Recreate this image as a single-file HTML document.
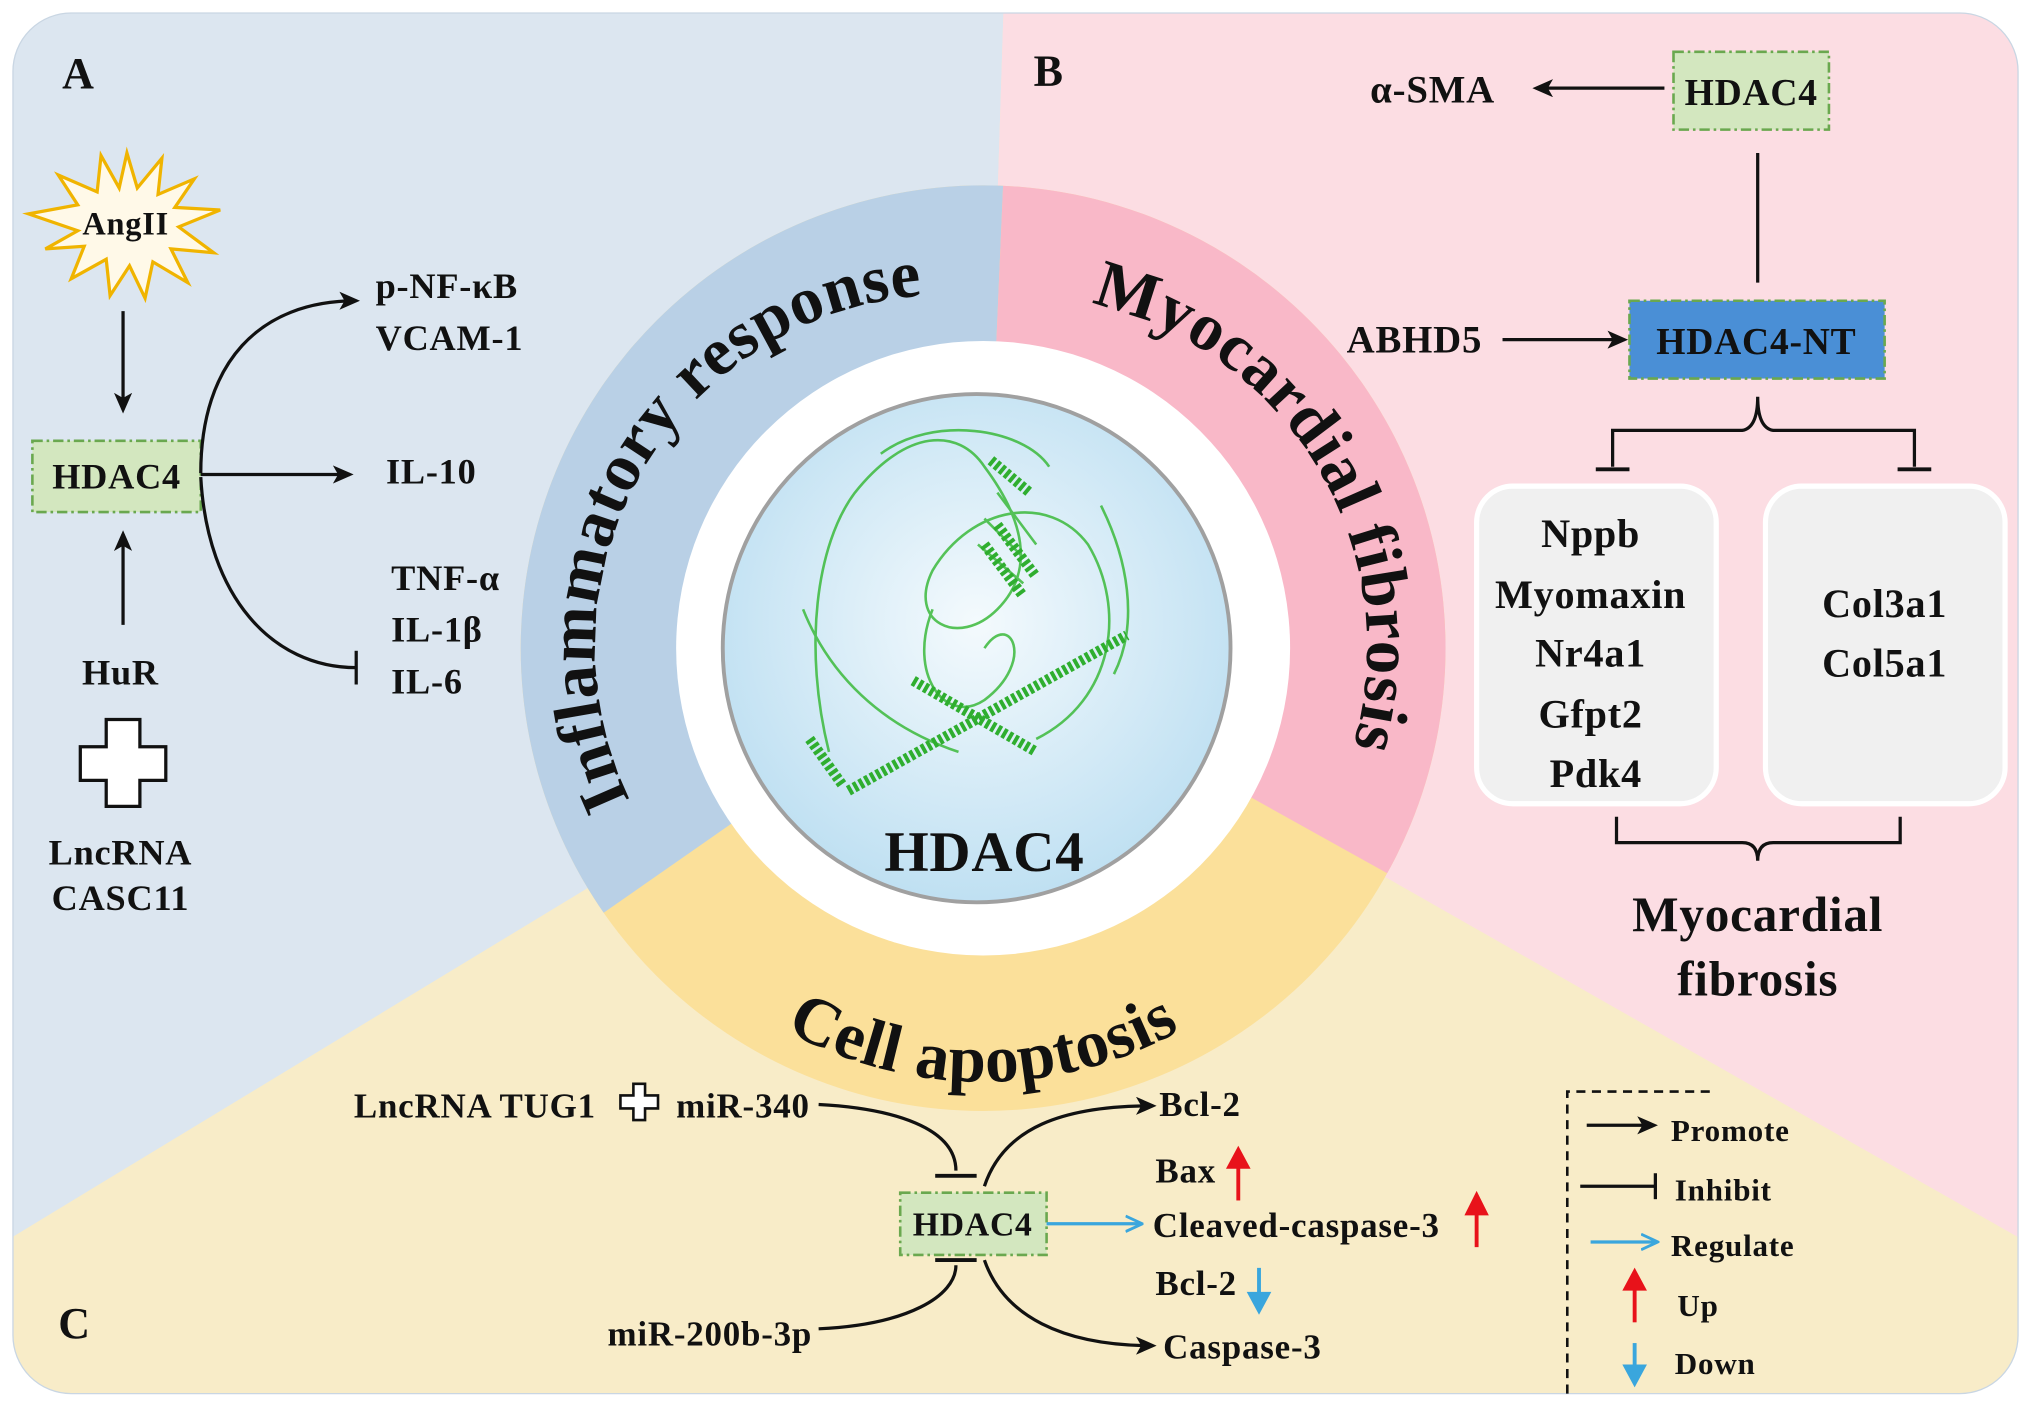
<!DOCTYPE html>
<html><head><meta charset="utf-8"><style>
html,body{margin:0;padding:0;background:#fff;}
svg{display:block;}
text{font-family:"Liberation Serif",serif;font-weight:bold;fill:#111;letter-spacing:0.6px;}
</style></head><body>
<svg width="2031" height="1404" viewBox="0 0 1568 1083" preserveAspectRatio="none" xmlns="http://www.w3.org/2000/svg">
<defs>
<clipPath id="panel"><rect x="10" y="10" width="1548" height="1065" rx="45"/></clipPath>
<clipPath id="ring"><circle cx="759" cy="500" r="357"/></clipPath>
<marker id="ah" markerWidth="16" markerHeight="14" refX="13" refY="7" orient="auto" markerUnits="userSpaceOnUse" viewBox="0 0 16 14"><path d="M0,0 L16,7 L0,14 L4,7 Z" fill="#111"/></marker>
<marker id="ab" markerWidth="14" markerHeight="14" refX="11" refY="7" orient="auto" markerUnits="userSpaceOnUse" viewBox="0 0 14 14"><path d="M0,1 L13,7 L0,13" fill="none" stroke="#3aa6dd" stroke-width="2.2"/></marker>
<radialGradient id="ig" cx="50%" cy="45%" r="55%"><stop offset="0" stop-color="#f4fafd"/><stop offset="1" stop-color="#bfe0f2"/></radialGradient>
<path id="arcInf" d="M 505 650 A 272 272 0 0 1 750 228"/>
<path id="arcMyo" d="M 790 228 A 272 272 0 0 1 1025 625"/>
<path id="arcCell" d="M 470 640 A 312 312 0 0 0 1048 640"/>
</defs>

<g clip-path="url(#panel)">
<rect x="0" y="0" width="1568" height="1083" fill="#f8ecc8"/>
<polygon points="0,0 775,0 759,500 0,960" fill="#dce6f0"/>
<polygon points="775,0 1568,0 1568,960 759,500" fill="#fcdde3"/>
</g>
<rect x="10" y="10" width="1548" height="1065" rx="45" fill="none" stroke="#c9d6e3" stroke-width="1"/>

<g clip-path="url(#ring)">
<rect x="380" y="130" width="760" height="760" fill="#fbe09a"/>
<polygon points="759,500 380,764 380,130 775,130" fill="#b9d0e6"/>
<polygon points="759,500 775,130 1140,130 1140,712" fill="#f9b8c8"/>
</g>
<circle cx="759" cy="500" r="237" fill="#fff"/>
<circle cx="754" cy="500" r="196" fill="url(#ig)" stroke="#a0a0a0" stroke-width="3"/>

<!-- protein sketch -->
<g fill="none" stroke="#3cba3c" stroke-width="2" opacity="0.85">
<path d="M640 580 C620 500 630 420 660 380 C700 330 740 330 760 360 C790 400 800 440 770 470 C740 500 700 480 720 440 C750 390 810 380 840 420 C870 470 860 540 800 570"/>
<path d="M680 350 C720 320 790 330 810 360 M760 400 L790 430 M770 380 L800 420 M755 420 L790 450"/>
<path d="M720 470 C700 520 730 560 760 540 C800 510 780 470 760 500"/>
<path d="M620 470 C640 520 680 560 740 580 M850 390 C870 430 880 480 860 520"/>
</g>
<g stroke="#2fae2f" stroke-width="8" stroke-dasharray="3 2" fill="none">
<path d="M655 610 L870 490"/>
<path d="M705 525 L800 580"/>
<path d="M765 355 L795 380"/>
<path d="M770 405 L800 445"/>
<path d="M760 420 L790 460"/>
<path d="M625 570 L650 605"/>
</g>
<text x="760" y="672" font-size="44" text-anchor="middle">HDAC4</text>

<!-- curved ring labels -->
<text font-size="52"><textPath href="#arcInf" startOffset="50%" text-anchor="middle">Inflammatory response</textPath></text>
<text font-size="52"><textPath href="#arcMyo" startOffset="50%" text-anchor="middle">Myocardial fibrosis</textPath></text>
<text font-size="52"><textPath href="#arcCell" startOffset="50%" text-anchor="middle">Cell apoptosis</textPath></text>

<!-- Panel A -->
<text x="48" y="68" font-size="34">A</text>
<polygon points="98,118 106,145 125,122 122,150 150,138 135,160 170,162 138,175 165,195 132,192 145,218 118,202 112,230 100,205 85,228 82,200 55,215 65,190 35,192 60,178 22,165 60,158 45,135 75,148 78,120 92,145" fill="#fff9e8" stroke="#f0b400" stroke-width="2.5"/>
<text x="97" y="181" font-size="25" text-anchor="middle">AngII</text>
<line x1="95" y1="240" x2="95" y2="316" stroke="#111" stroke-width="2.5" marker-end="url(#ah)"/>
<rect x="25" y="340" width="130" height="55" fill="#d3e7bf" stroke="#6aa84f" stroke-width="2" stroke-dasharray="8 3 2 3"/>
<text x="90" y="377" font-size="28" text-anchor="middle">HDAC4</text>
<line x1="95" y1="482" x2="95" y2="412" stroke="#111" stroke-width="2.5" marker-end="url(#ah)"/>
<text x="93" y="528" font-size="28" text-anchor="middle">HuR</text>
<path d="M82,555 H108 V576 H128 V602 H108 V622 H82 V602 H62 V576 H82 Z" fill="#fff" stroke="#111" stroke-width="2.5"/>
<text x="93" y="667" font-size="28" text-anchor="middle">LncRNA</text>
<text x="93" y="702" font-size="28" text-anchor="middle">CASC11</text>
<path d="M155,365 C155,280 200,232 275,232" fill="none" stroke="#111" stroke-width="2.5" marker-end="url(#ah)"/>
<line x1="155" y1="366" x2="270" y2="366" stroke="#111" stroke-width="2.5" marker-end="url(#ah)"/>
<path d="M155,368 C160,460 210,515 275,515" fill="none" stroke="#111" stroke-width="2.5"/>
<line x1="275" y1="502" x2="275" y2="528" stroke="#111" stroke-width="2.5"/>
<g font-size="28">
<text x="290" y="230">p-NF-κB</text>
<text x="290" y="270">VCAM-1</text>
<text x="298" y="373">IL-10</text>
<text x="302" y="455">TNF-α</text>
<text x="302" y="495">IL-1β</text>
<text x="302" y="535">IL-6</text>
</g>

<!-- Panel B -->
<text x="798" y="66" font-size="34">B</text>
<text x="1106" y="79" font-size="30" text-anchor="middle">α-SMA</text>
<line x1="1285" y1="68" x2="1186" y2="68" stroke="#111" stroke-width="2.5" marker-end="url(#ah)"/>
<rect x="1292" y="40" width="120" height="60" fill="#d3e7bf" stroke="#6aa84f" stroke-width="2" stroke-dasharray="8 3 2 3"/>
<text x="1352" y="81" font-size="29" text-anchor="middle">HDAC4</text>
<line x1="1357" y1="118" x2="1357" y2="218" stroke="#111" stroke-width="2.5"/>
<text x="1092" y="272" font-size="30" text-anchor="middle">ABHD5</text>
<line x1="1160" y1="262" x2="1254" y2="262" stroke="#111" stroke-width="2.5" marker-end="url(#ah)"/>
<rect x="1258" y="232" width="197" height="60" fill="#4a8fd6" stroke="#6aa84f" stroke-width="2" stroke-dasharray="8 3 2 3"/>
<text x="1356" y="273" font-size="29" text-anchor="middle">HDAC4-NT</text>
<path d="M1357,306 Q1357,330 1345,332 H1245 V360 M1357,306 Q1357,330 1369,332 H1478 V360" fill="none" stroke="#111" stroke-width="2.5"/>
<line x1="1232" y1="362" x2="1258" y2="362" stroke="#111" stroke-width="3"/>
<line x1="1465" y1="362" x2="1491" y2="362" stroke="#111" stroke-width="3"/>
<rect x="1140" y="375" width="185" height="245" rx="28" fill="#f0f0f0" stroke="#fff" stroke-width="4"/>
<rect x="1363" y="375" width="185" height="245" rx="28" fill="#f0f0f0" stroke="#fff" stroke-width="4"/>
<g font-size="31" text-anchor="middle">
<text x="1228" y="422">Nppb</text>
<text x="1228" y="469">Myomaxin</text>
<text x="1228" y="514">Nr4a1</text>
<text x="1228" y="561">Gfpt2</text>
<text x="1232" y="607">Pdk4</text>
<text x="1455" y="476">Col3a1</text>
<text x="1455" y="522">Col5a1</text>
</g>
<path d="M1248,630 V650 H1345 Q1357,650 1357,664 Q1357,650 1369,650 H1467 V630" fill="none" stroke="#111" stroke-width="2.5"/>
<text x="1357" y="718" font-size="38" text-anchor="middle">Myocardial</text>
<text x="1357" y="768" font-size="38" text-anchor="middle">fibrosis</text>

<!-- Panel C -->
<text x="45" y="1032" font-size="34">C</text>
<text x="460" y="862" font-size="27" text-anchor="end">LncRNA TUG1</text>
<path d="M489,836 H498 V845 H508 V855 H498 V864 H489 V855 H479 V845 H489 Z" fill="#fff" stroke="#111" stroke-width="2"/>
<text x="522" y="862" font-size="27">miR-340</text>
<path d="M632,852 C690,855 738,870 738,903" fill="none" stroke="#111" stroke-width="2.5"/>
<line x1="722" y1="907" x2="754" y2="907" stroke="#111" stroke-width="3"/>
<text x="627" y="1038" font-size="27" text-anchor="end">miR-200b-3p</text>
<path d="M632,1025 C700,1022 738,1000 738,976" fill="none" stroke="#111" stroke-width="2.5"/>
<line x1="722" y1="972" x2="754" y2="972" stroke="#111" stroke-width="3"/>
<rect x="695" y="920" width="113" height="48" fill="#d3e7bf" stroke="#6aa84f" stroke-width="2" stroke-dasharray="8 3 2 3"/>
<text x="751" y="953" font-size="26" text-anchor="middle">HDAC4</text>
<path d="M760,915 C775,870 820,853 890,853" fill="none" stroke="#111" stroke-width="2.5" marker-end="url(#ah)"/>
<path d="M760,972 C775,1015 820,1038 890,1038" fill="none" stroke="#111" stroke-width="2.5" marker-end="url(#ah)"/>
<line x1="808" y1="944" x2="880" y2="944" stroke="#3aa6dd" stroke-width="2.5" marker-end="url(#ab)"/>
<g font-size="27">
<text x="895" y="861">Bcl-2</text>
<text x="892" y="912">Bax</text>
<text x="890" y="954">Cleaved-caspase-3</text>
<text x="892" y="999">Bcl-2</text>
<text x="898" y="1048">Caspase-3</text>
</g>
<g stroke="#e8121a" stroke-width="3" fill="#e8121a">
<line x1="956" y1="926" x2="956" y2="898"/><polygon points="949,900 963,900 956,887"/>
<line x1="1140" y1="962" x2="1140" y2="934"/><polygon points="1133,936 1147,936 1140,922"/>
</g>
<g stroke="#3aa6dd" stroke-width="3" fill="#3aa6dd">
<line x1="972" y1="978" x2="972" y2="1000"/><polygon points="965,998 979,998 972,1011"/>
</g>

<!-- legend -->
<path d="M1210,1075 V842 H1325" fill="none" stroke="#111" stroke-width="2" stroke-dasharray="7 5"/>
<line x1="1225" y1="868" x2="1277" y2="868" stroke="#111" stroke-width="2.5" marker-end="url(#ah)"/>
<line x1="1220" y1="915" x2="1278" y2="915" stroke="#111" stroke-width="2.5"/>
<line x1="1278" y1="905" x2="1278" y2="925" stroke="#111" stroke-width="2.5"/>
<line x1="1228" y1="958" x2="1278" y2="958" stroke="#3aa6dd" stroke-width="2.5" marker-end="url(#ab)"/>
<g stroke="#e8121a" stroke-width="3" fill="#e8121a"><line x1="1262" y1="1020" x2="1262" y2="992"/><polygon points="1255,994 1269,994 1262,981"/></g>
<g stroke="#3aa6dd" stroke-width="3" fill="#3aa6dd"><line x1="1262" y1="1036" x2="1262" y2="1056"/><polygon points="1255,1054 1269,1054 1262,1067"/></g>
<g font-size="24">
<text x="1290" y="880">Promote</text>
<text x="1293" y="926">Inhibit</text>
<text x="1290" y="969">Regulate</text>
<text x="1295" y="1015">Up</text>
<text x="1293" y="1060">Down</text>
</g>
</svg>
</body></html>
